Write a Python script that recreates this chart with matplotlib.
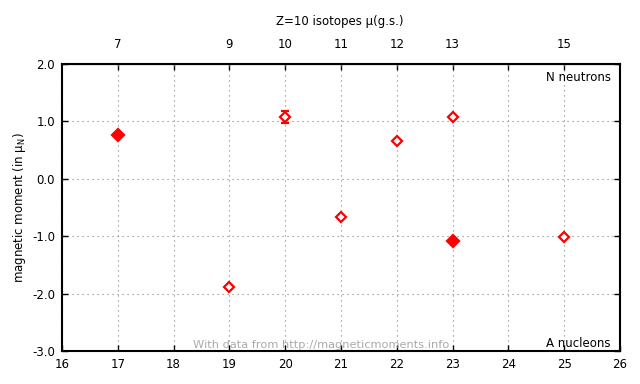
import matplotlib.pyplot as plt
import numpy as np

# mass number A, magnetic moment, error
A = [17, 19, 20, 21, 22, 23, 23, 25]
mu = [0.77, -1.887, 1.08, -0.662, 0.65, 1.08, -1.077, -1.006]
err = [0.03, 0.0, 0.1, 0.0, 0.0, 0.0, 0.03, 0.0]
filled = [True, False, False, False, False, False, True, False]

top_pos = np.arange(17, 26, 1)
top_lab = ['7', '', '9', '10', '11', '12', '13', '', '15']

plt.rcParams['font.family'] = ['DejaVu Sans']
fig = plt.figure(figsize=(6.4, 3.84), dpi=100)
ax = fig.add_axes([62/640, 33/384, 558/640, 287/384])

for a, m, e, f in zip(A, mu, err, filled):
    ax.errorbar(a, m, yerr=e, fmt='D', color='red', ms=6 if f else 5, mew=1.6,
                mfc='red' if f else 'white', mec='red', capsize=3, elinewidth=1.2)

ax.set_xlim(16, 26)
ax.set_ylim(-3, 2)
ax.set_xticks(np.arange(16, 27, 1))
ax.set_yticks(np.arange(-3, 2.1, 1))
ax.set_yticklabels(['%.1f' % v for v in np.arange(-3, 2.1, 1)])
ax.grid(True, linestyle=(0, (1, 3.5)), color='gray', linewidth=0.8)
ax.tick_params(direction='in', length=4, labelsize=8.5, width=1, right=True, pad=5)
for s in ax.spines.values():
    s.set_linewidth(1.5)

ax2 = ax.secondary_xaxis('top')
ax2.set_xticks(top_pos)
ax2.set_xticklabels(top_lab)
ax2.tick_params(direction='in', length=4, labelsize=8.5, width=1, pad=9)

ax.set_ylabel('magnetic moment (in μ$_\\mathregular{N}$)', fontsize=8.5, labelpad=3)
fig.text(340/640, 1 - 22/384, 'Z=10 isotopes μ(g.s.)', ha='center', va='center', fontsize=8.5)
ax.text(0.983, 0.975, 'N neutrons', transform=ax.transAxes, ha='right', va='top', fontsize=8.5)
ax.text(0.983, 0.005, 'A nucleons', transform=ax.transAxes, ha='right', va='bottom', fontsize=8.5)
ax.text(0.235, 0.005, 'With data from http://magneticmoments.info', transform=ax.transAxes,
        ha='left', va='bottom', fontsize=8.2, color='#aaaaaa')

fig.savefig('out.png', dpi=100)
